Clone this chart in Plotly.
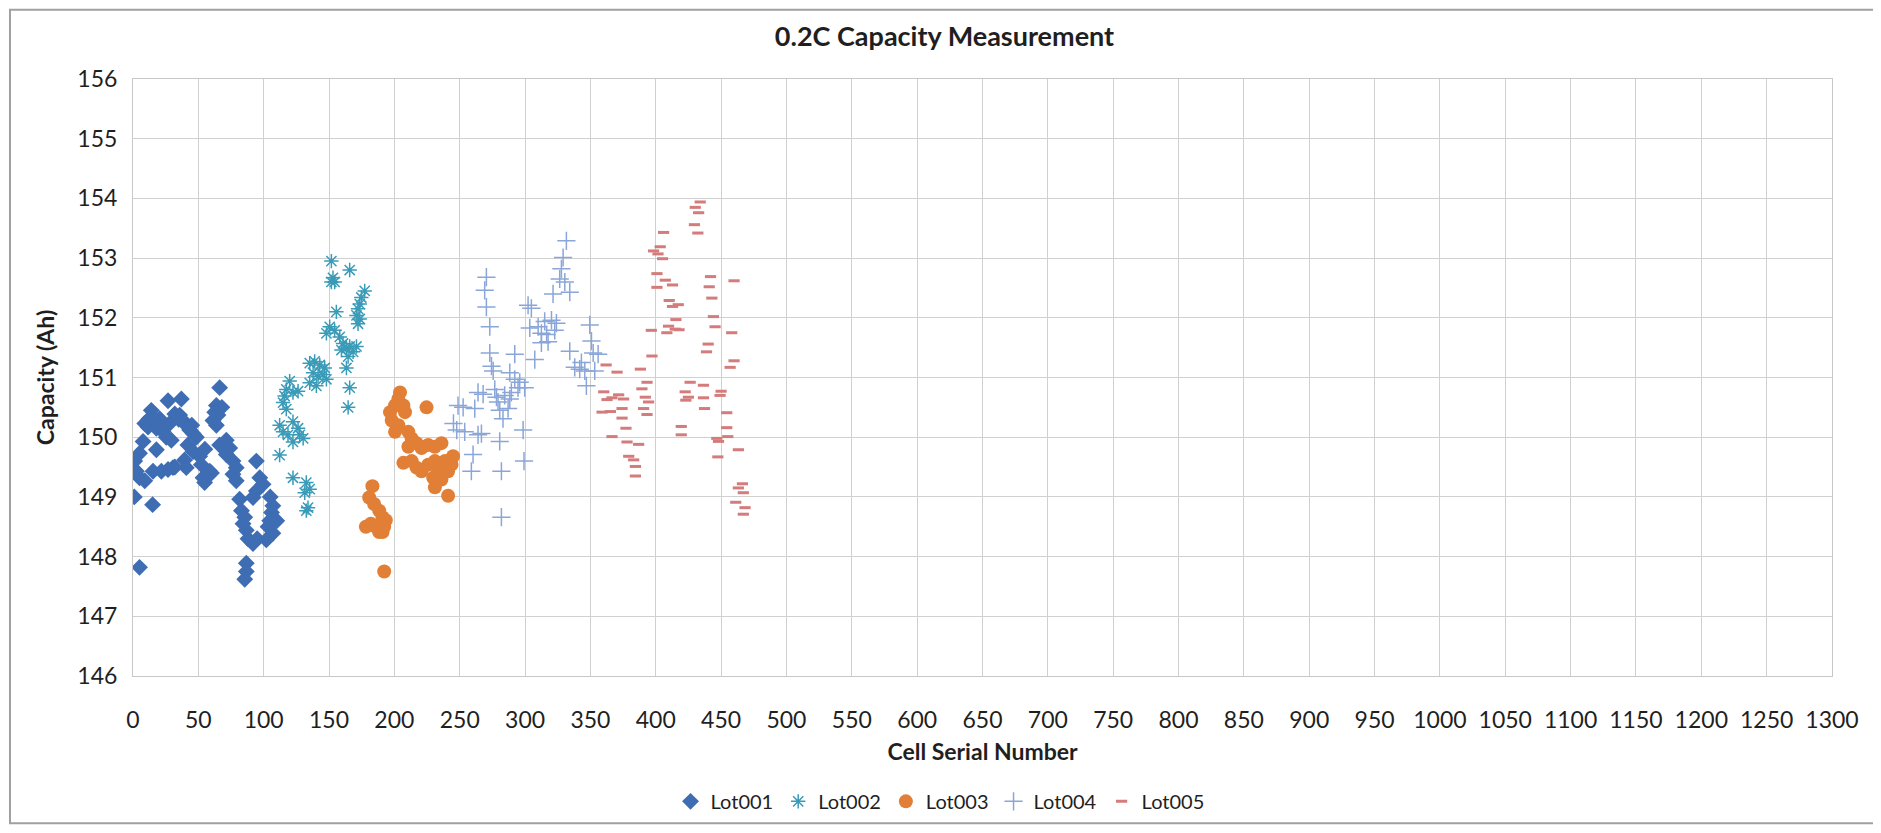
import plotly.graph_objects as go

title_text = "0.2C Capacity Measurement"
x_title = "Cell Serial Number"
y_title = "Capacity (Ah)"

lot001_x = [1, 5, 15, 5, 2.6, 1.3, 5, 9, 7.7, 14, 15.3, 9, 11.5, 20.4, 17.9, 23, 28, 32, 35.7, 38.3,
            40.8, 43.4, 46, 48.5, 25.5, 29.3, 26.8, 37, 17.9, 15.3, 21.7, 26.8, 30.6, 39.5, 40.8, 42,
            46, 51, 52.3, 53.6, 54.8, 58.7, 63.8, 62.5, 65, 61.2, 63.8, 66.3, 66.3, 71.4, 74, 71.4,
            76.5, 79, 76.5, 79, 94.4, 97, 99.5, 94.4, 91.8, 81.6, 107, 106, 104.6, 103.3, 107, 102,
            83, 85.5, 84.2, 86.7, 88, 91.8, 86.7, 86.7, 85.5, 35, 45, 55, 60, 68, 12, 20, 32, 110,
            105, 95]
lot001_y = [149.0, 147.82, 148.87, 149.32, 149.43, 149.6, 149.73, 149.27, 149.93, 150.45, 150.34,
            150.23, 150.17, 150.31, 150.15, 150.09, 150.23, 150.39, 150.37, 150.28, 150.2, 150.12,
            150.06, 150.0, 150.0, 149.95, 150.61, 150.64, 149.79, 149.43, 149.43, 149.46, 149.49,
            149.62, 149.49, 149.87, 149.76, 149.68, 149.54, 149.32, 149.24, 149.43, 150.53, 150.42,
            150.37, 150.28, 150.2, 150.83, 149.87, 149.95, 149.82, 149.71, 149.6, 149.49, 149.38,
            149.27, 149.6, 149.32, 149.21, 149.1, 148.99, 148.96, 148.85, 148.74, 148.6, 148.5,
            148.39, 148.28, 148.77, 148.66, 148.55, 148.44, 148.3, 148.22, 147.89, 147.75, 147.62,
            150.3, 150.2, 149.8, 149.4, 150.5, 150.3, 150.2, 149.5, 148.6, 149.0, 148.3]

lot002_x = [151.8, 165.8, 153, 154.3, 151.8, 177.3, 174.7, 173.5, 172.2, 171, 173.5, 172.2, 155.6,
            150.5, 148, 154.3, 158.2, 160.7, 163.3, 165.8, 168.4, 171, 159.5, 164.6, 163.3, 165.8,
            164.6, 135.2, 139, 142.9, 146.7, 137.8, 141.6, 145.4, 148, 135.2, 140.3, 119.9, 117.3,
            116, 122.4, 126.3, 114.8, 117.3, 112.2, 114.8, 122.4, 126.3, 127.6, 130.2, 122.4, 118.6,
            112.2, 122.4, 132.6, 135.2, 131.4, 133.9, 132.6]
lot002_y = [152.95, 152.8, 152.67, 152.6, 152.6, 152.45, 152.34, 152.23, 152.15, 152.04, 151.98,
            151.9, 152.1, 151.85, 151.74, 151.79, 151.68, 151.57, 151.49, 151.52, 151.43, 151.52,
            151.46, 151.35, 151.16, 150.83, 150.5, 151.24, 151.27, 151.21, 151.16, 151.08, 151.02,
            151.05, 150.97, 150.91, 150.86, 150.94, 150.8, 150.69, 150.75, 150.77, 150.58, 150.47,
            150.2, 150.09, 150.26, 150.15, 150.04, 149.98, 149.92, 150.04, 149.7, 149.32, 149.24,
            149.13, 149.07, 148.82, 148.77]

lot003_x = [204.3, 203, 200.5, 196.7, 206.9, 208.1, 224.6, 198, 203, 200.5, 210.7, 213.2, 210.7,
            217, 220.8, 225.9, 231, 236, 206.9, 213.2, 217, 220.8, 225.9, 231, 238.6, 244.9, 243.7,
            241.1, 233.5, 229.7, 236, 231, 241.1, 183.2, 180.7, 184.5, 188.4, 190.9, 193.4, 192.2,
            188.4, 178.2, 182, 185.8, 190.9, 192.2]
lot003_y = [150.75, 150.64, 150.53, 150.42, 150.53, 150.42, 150.5, 150.28, 150.2, 150.09, 150.09,
            149.98, 149.84, 149.9, 149.82, 149.87, 149.84, 149.9, 149.57, 149.6, 149.49, 149.43,
            149.54, 149.6, 149.6, 149.68, 149.54, 149.43, 149.43, 149.32, 149.29, 149.16, 149.02,
            149.18, 148.99, 148.88, 148.77, 148.66, 148.61, 148.5, 148.41, 148.5, 148.55, 148.5,
            148.41, 147.75]

lot004_x = [331.6, 329.1, 327.8, 326.5, 330.4, 321.4, 334.2, 270.4, 269.1, 270.4, 273, 302.3, 304.8,
            303.6, 310, 315, 320.2, 324, 312.5, 316.5, 312.5, 317.6, 322.7, 349.5, 350.8, 352.1,
            355.9, 334.2, 338, 341.8, 345.7, 343.1, 353.3, 346.9, 307.4, 292.1, 273, 274.3, 275.6,
            288.3, 292.1, 295.9, 299.7, 294.6, 264, 267.9, 276.8, 278.1, 284.4, 289.5, 288.3, 248.7,
            252.6, 261.5, 279.3, 280.6, 287, 283.1, 245.2, 247.7, 253.8, 264, 266.6, 298.5, 280.6,
            260.2, 258.9, 281.9, 299.2, 281.9]
lot004_y = [153.29, 153.01, 152.82, 152.65, 152.6, 152.4, 152.43, 152.68, 152.46, 152.18, 151.85,
            152.21, 152.16, 151.83, 151.85, 151.94, 151.96, 151.91, 151.74, 151.72, 151.58, 151.6,
            151.79, 151.88, 151.61, 151.41, 151.39, 151.44, 151.17, 151.14, 151.11, 151.25, 151.11,
            150.86, 151.3, 151.39, 151.41, 151.19, 151.11, 151.08, 150.97, 150.92, 150.83, 150.83,
            150.75, 150.72, 150.8, 150.67, 150.7, 150.75, 150.64, 150.53, 150.5, 150.48, 150.59,
            150.45, 150.48, 150.31, 150.23, 150.12, 150.09, 150.04, 150.06, 150.12, 149.93, 149.71,
            149.43, 149.43, 149.6, 148.66]

lot005_x = [434, 430.2, 432.8, 429.6, 432.2, 406, 403.4, 398.3, 401.7, 405.2, 400.9, 407.3, 400.9,
            412.8, 410.3, 412.8, 417.2, 415.4, 409.8, 414.9, 408.5, 417.8, 396.6, 441.9, 440.9, 442.9,
            444.1, 445.4, 459.9, 440.1, 438.8, 458.1, 459.9, 456.9, 397.1, 362, 370.4, 388.2, 393.3,
            389.4, 392, 394.5, 390.7, 393.3, 360.2, 362.7, 371.6, 366.5, 375.4, 358.9, 365.3, 374.2,
            374.2, 377.2, 366.5, 378, 386.9, 379.3, 383.1, 384.4, 384.4, 426.3, 422.5, 425, 423,
            436.5, 436.5, 437.3, 419.5, 419.5, 450, 449.2, 454.3, 454.3, 455.1, 446.7, 448, 463.2,
            447.5, 466.3, 463.2, 467, 461.2, 468.3, 467]
lot005_y = [153.94, 153.85, 153.76, 153.56, 153.42, 153.43, 153.19, 153.12, 153.07, 152.99, 152.74,
            152.63, 152.51, 152.55, 152.29, 152.19, 152.22, 151.97, 151.86, 151.81, 151.75, 151.8,
            151.79, 152.69, 152.52, 152.33, 152.02, 151.85, 152.62, 151.56, 151.43, 151.75, 151.28,
            151.17, 151.36, 151.21, 151.09, 151.14, 150.92, 150.81, 150.67, 150.59, 150.48, 150.38,
            150.76, 150.63, 150.71, 150.66, 150.64, 150.42, 150.43, 150.48, 150.32, 150.15, 150.01,
            149.92, 149.88, 149.68, 149.62, 149.51, 149.35, 150.92, 150.76, 150.67, 150.62, 150.87,
            150.66, 150.48, 150.18, 150.04, 150.77, 150.7, 150.41, 150.16, 150.01, 149.98, 149.93,
            149.79, 149.67, 149.22, 149.15, 149.07, 148.91, 148.82, 148.71]

font_family = "Lato, 'Open Sans', sans-serif"
text_color = "#1F1F1F"

fig = go.Figure()
fig.add_trace(go.Scatter(x=lot001_x, y=lot001_y, mode="markers", name="Lot001",
                         marker=dict(symbol="diamond", size=13, color="#3E6DB3")))
fig.add_trace(go.Scatter(x=lot002_x, y=lot002_y, mode="markers", name="Lot002",
                         marker=dict(symbol="asterisk-open", size=12, color="#3A9BB8",
                                     line=dict(width=1.5, color="#3A9BB8"))))
fig.add_trace(go.Scatter(x=lot003_x, y=lot003_y, mode="markers", name="Lot003",
                         marker=dict(symbol="circle", size=14, color="#E27F36")))
fig.add_trace(go.Scatter(x=lot004_x, y=lot004_y, mode="markers", name="Lot004",
                         marker=dict(symbol="cross-thin-open", size=13, color="#8AA6D8",
                                     line=dict(width=1.5, color="#8AA6D8"))))
fig.add_trace(go.Scatter(x=lot005_x, y=lot005_y, mode="markers", name="Lot005",
                         marker=dict(symbol="line-ew-open", size=8, color="#D47C7C",
                                     line=dict(width=3, color="#D47C7C"))))

fig.update_layout(
    width=1873, height=825,
    margin=dict(l=125, r=49, t=71, b=150),
    paper_bgcolor="white", plot_bgcolor="white",
    font=dict(family=font_family, color=text_color),
    title=dict(text="<b>" + title_text + "</b>", x=0.5, xanchor="center", y=0.966, yanchor="middle",
               font=dict(size=27, color=text_color, family=font_family)),
    showlegend=True,
    legend=dict(orientation="h", x=0.475, xanchor="center", y=-0.21, yanchor="middle",
                font=dict(size=20, color=text_color), itemwidth=30, tracegroupgap=0),
    xaxis=dict(range=[0, 1300], dtick=50, tick0=0, showgrid=True, gridcolor="#D0D0D0", gridwidth=1,
               showline=True, linecolor="#C8C8C8", mirror=True, zeroline=False, ticks="",
               ticklabelstandoff=23,
               tickfont=dict(size=23, color=text_color),
               title=dict(text="<b>" + x_title + "</b>", font=dict(size=23, color=text_color), standoff=12)),
    yaxis=dict(range=[146, 156], dtick=1, tick0=146, showgrid=True, gridcolor="#D0D0D0", gridwidth=1,
               showline=True, linecolor="#C8C8C8", mirror=True, zeroline=False, ticks="",
               ticklabelstandoff=10,
               tickfont=dict(size=23, color=text_color),
               title=dict(text="<b>" + y_title + "</b>", font=dict(size=23, color=text_color), standoff=16)),
    shapes=[dict(type="rect", xref="paper", yref="paper", x0=-0.0724, x1=1.0265, y0=-0.2467, y1=1.116,
                 line=dict(color="#A0A0A0", width=2), fillcolor="rgba(0,0,0,0)", layer="below")],
)

fig.write_html("out.html")
